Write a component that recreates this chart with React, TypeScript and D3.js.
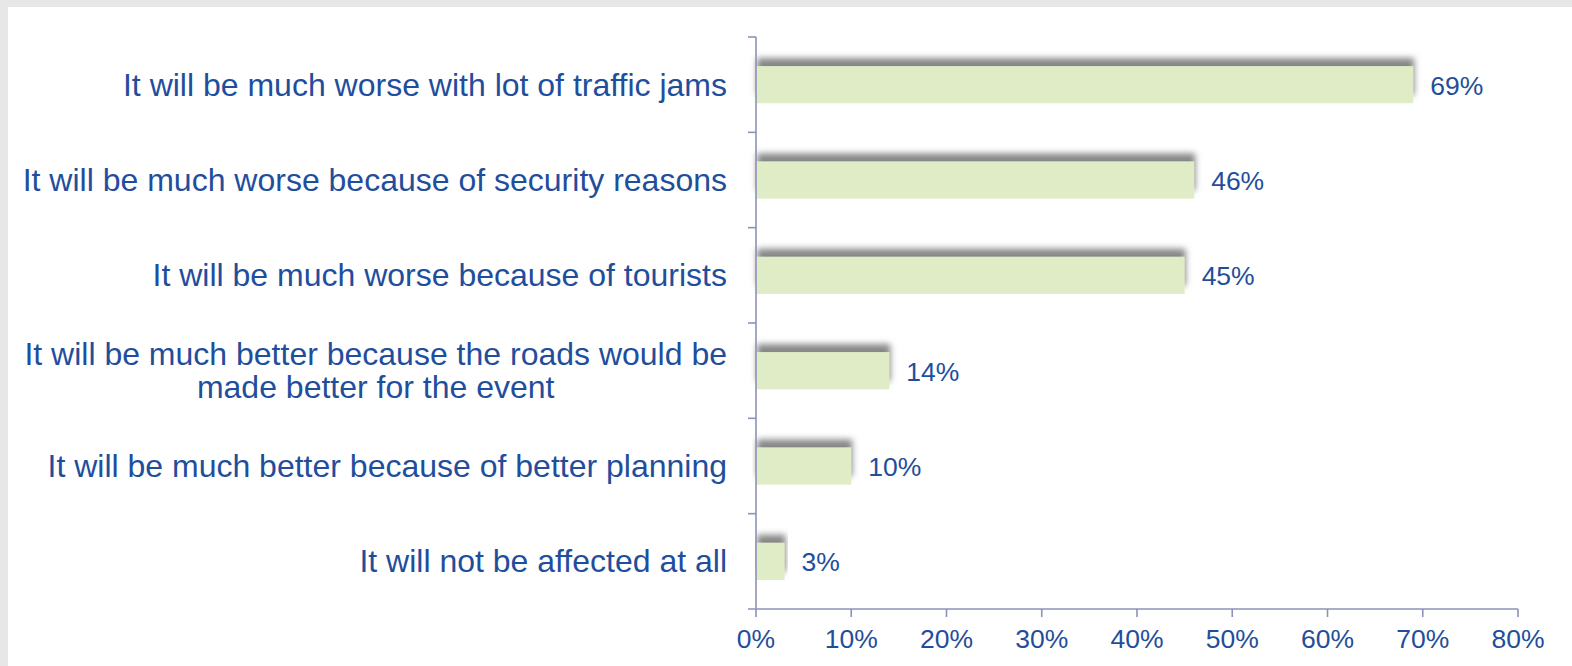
import React, { useEffect, useRef } from 'react';
import * as d3 from 'd3';

const categories = [
  ['It will be much worse with lot of traffic jams'],
  ['It will be much worse because of security reasons'],
  ['It will be much worse because of tourists'],
  ['It will be much better because the roads would be', 'made better for the event'],
  ['It will be much better because of better planning'],
  ['It will not be affected at all'],
];
const values = [0.69, 0.46, 0.45, 0.14, 0.1, 0.03];
const xTicks = [0, 0.1, 0.2, 0.3, 0.4, 0.5, 0.6, 0.7, 0.8];

const TEXT = '#1F4E9C';
const AXIS = '#8C92B9';
const BAR = '#DFECC5';

const App: React.FC = () => {
  const svgRef = useRef<SVGSVGElement>(null);

  useEffect(() => {
    if (!svgRef.current) return;
    const svg = d3.select(svgRef.current);
    svg.selectAll('*').remove();

    const width = 1572;
    const height = 666;
    const keys = categories.map((c) => c.join(' '));

    // gray frame + white panel
    svg.append('rect').attr('width', width).attr('height', height).attr('fill', '#E6E7E6');
    svg.append('rect').attr('x', 8).attr('y', 7).attr('width', width - 8).attr('height', height - 7).attr('fill', '#fff');

    const defs = svg.append('defs');
    const f = defs.append('filter').attr('id', 'shadow')
      .attr('x', '-5%').attr('y', '-80%').attr('width', '115%').attr('height', '200%');
    f.append('feGaussianBlur').attr('in', 'SourceAlpha').attr('stdDeviation', 3).attr('result', 'b');
    f.append('feOffset').attr('in', 'b').attr('dx', 1).attr('dy', -8).attr('result', 'o');
    f.append('feFlood').attr('flood-color', '#7a7a7a').attr('flood-opacity', 0.9).attr('result', 'c');
    f.append('feComposite').attr('in', 'c').attr('in2', 'o').attr('operator', 'in').attr('result', 's');
    const m = f.append('feMerge');
    m.append('feMergeNode').attr('in', 's');
    m.append('feMergeNode').attr('in', 'SourceGraphic');

    const x = d3.scaleLinear().domain([0, 0.8]).range([756, 1518]);
    const y = d3.scaleBand<string>().domain(keys).range([37, 609])
      .paddingInner(0.61).paddingOuter(0.305);
    const step = y.step();
    const top = 37;
    const bottom = 609;

    // bars
    svg.append('g').selectAll('rect').data(values).join('rect')
      .attr('x', x(0))
      .attr('y', (_, i) => y(keys[i])!)
      .attr('width', (d) => x(d) - x(0))
      .attr('height', y.bandwidth())
      .attr('fill', BAR)
      .attr('filter', 'url(#shadow)');

    // axes
    const ax = svg.append('g').attr('stroke', AXIS).attr('stroke-width', 1.6);
    ax.append('line').attr('x1', x(0)).attr('x2', x(0)).attr('y1', top).attr('y2', bottom);
    ax.append('line').attr('x1', x(0) - 8).attr('x2', x(0.8)).attr('y1', bottom).attr('y2', bottom);
    d3.range(keys.length).forEach((i) => {
      const ty = top + i * step;
      ax.append('line').attr('x1', x(0) - 8).attr('x2', x(0)).attr('y1', ty).attr('y2', ty);
    });
    xTicks.forEach((t) => {
      ax.append('line').attr('x1', x(t)).attr('x2', x(t)).attr('y1', bottom).attr('y2', bottom + 8);
    });

    const font = 'Liberation Sans, Arial, sans-serif';

    // x tick labels
    svg.append('g').selectAll('text').data(xTicks).join('text')
      .attr('x', (d) => x(d))
      .attr('y', 648)
      .attr('text-anchor', 'middle')
      .style('font-family', font)
      .style('font-size', '26.5px')
      .style('fill', TEXT)
      .text((d) => d3.format('.0%')(d));

    // category labels
    const lg = svg.append('g');
    const labelRight = 727;
    categories.forEach((lines, i) => {
      const cy = y(keys[i])! + y.bandwidth() / 2;
      const lh = 33;
      let firstLen = 0;
      lines.forEach((ln, j) => {
        const t = lg.append('text')
          .attr('y', cy + 11 + (j - (lines.length - 1) / 2) * lh)
          .style('font-family', font)
          .style('font-size', '32px')
          .style('fill', TEXT)
          .text(ln);
        if (j === 0) {
          t.attr('x', labelRight).attr('text-anchor', 'end');
          firstLen = (t.node() as SVGTextElement).getComputedTextLength();
        } else {
          t.attr('x', labelRight - firstLen / 2).attr('text-anchor', 'middle');
        }
      });
    });

    // value labels
    svg.append('g').selectAll('text').data(values).join('text')
      .attr('x', (d) => x(d) + 17)
      .attr('y', (_, i) => y(keys[i])! + y.bandwidth() / 2 + 10)
      .style('font-family', font)
      .style('font-size', '26.5px')
      .style('fill', TEXT)
      .text((d) => d3.format('.0%')(d));
  }, []);

  return (
    <div style={{ position: 'fixed', left: 0, top: 0 }}>
      <svg ref={svgRef} width={1572} height={666} style={{ display: 'block' }}></svg>
    </div>
  );
};

export default App;
